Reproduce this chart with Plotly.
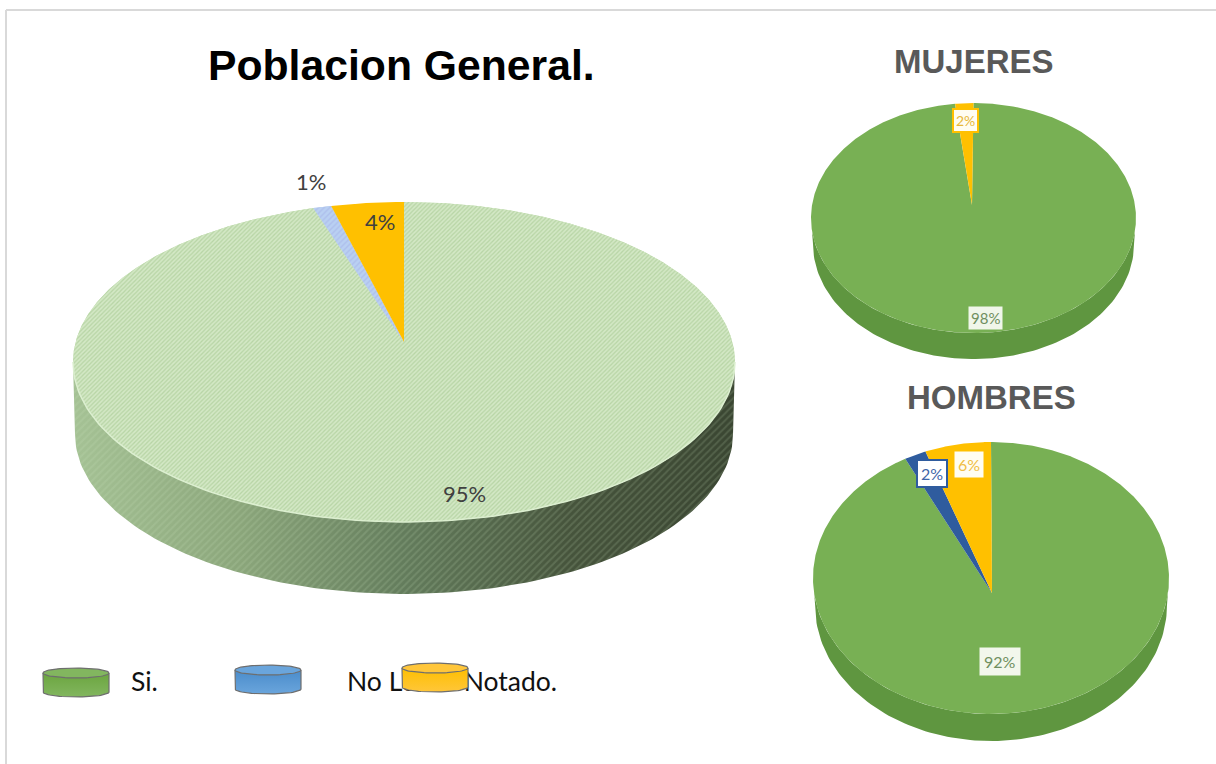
import numpy as np
import plotly.graph_objects as go

# ---- data ----
main_values = [95, 1, 4]
mujeres_values = [98, 2]
hombres_values = [92, 2, 6]
main_text = ["95%", "1%", "4%"]
title_main = "Poblacion General."
title_mujeres = "MUJERES"
title_hombres = "HOMBRES"
legend_items = ["Si.", "No Lo He Notado."]

fig = go.Figure()


def arc(cx, cy, rx, ry, k, t0, t1, n=120):
    """Arc of an ellipse seen in perspective; k=0 gives the plain ellipse."""
    t = np.radians(np.linspace(t0, t1, n))
    d = 1 + k * np.cos(t)
    return (cx + rx * np.sqrt(1 - k * k) * np.sin(t) / d,
            cy - ry * k - ry * (1 - k * k) * np.cos(t) / d)


def poly(x, y, **kw):
    fig.add_trace(go.Scatter(x=list(x), y=list(y), mode="lines", fill="toself",
                             line=dict(width=kw.pop("lw", 0), color=kw.pop("lc", "rgba(0,0,0,0)")),
                             hoverinfo="skip", showlegend=False, **kw))


def wall(cx, cy, rx, ry, depth):
    bx, by = arc(cx, cy, rx, ry, 0, 90, 270)
    bx2, by2 = arc(cx, cy + depth, rx - 2, ry, 0, 270, 90)
    return np.r_[bx, bx2], np.r_[by, by2]


def pie(values, colors, cx, cy, rx, ry, k, apex, depth, side, patterns=None):
    poly(*wall(cx, cy, rx, ry, depth), **side)
    total = sum(values)
    start = 0.0
    for i, v in enumerate(values):
        sweep = 360.0 * v / total
        ax, ay = arc(cx, cy, rx, ry, k, start, start + sweep, max(3, int(sweep * 2)))
        x = np.r_[apex[0], ax, apex[0]]
        y = np.r_[apex[1], ay, apex[1]]
        poly(x, y, fillcolor=colors[i])
        if patterns and patterns[i]:
            poly(x, y, fillcolor=colors[i], fillpattern=patterns[i])
        start += sweep


def ellipse_xy(cx, cy, rx, ry):
    t = np.linspace(0, 2 * np.pi, 80)
    return cx + rx * np.cos(t), cy + ry * np.sin(t)


def cylinder(x0, x1, y0, y1, col_top, col_bot):
    cx = (x0 + x1) / 2
    rx = (x1 - x0) / 2
    ry = 5
    t = np.linspace(np.pi, 0, 40)
    xs = np.r_[x0, cx + rx * np.cos(t), x1]
    ys = np.r_[y0 + ry, y1 - ry + ry * np.sin(t), y0 + ry]
    poly(xs, ys, lw=1.2, lc="#6e6e6e",
         fillgradient=dict(type="vertical", colorscale=[[0, col_top], [1, col_bot]]))
    ex, ey = ellipse_xy(cx, y0 + ry, rx, ry)
    poly(ex, ey, lw=1.2, lc="#6e6e6e", fillcolor=col_top)


# ---- main pie ----
hatch_side = dict(fillgradient=dict(type="horizontal",
                                    colorscale=[[0, "#a5c295"], [0.25, "#8ba67b"], [0.5, "#637c5c"],
                                                [0.75, "#46543c"], [1, "#3a4632"]]))
pat_top = dict(shape="/", size=3, solidity=0.42, fgcolor="#9cc186", bgcolor="#d3e8c5")
pat_blue = dict(shape="/", size=4, solidity=0.35, fgcolor="#a3aee6", bgcolor="#b9d0f2")
pie(main_values, ["#c5e0b4", "#b4c7e7", "#ffc000"], 404, 362, 331, 160, 0.125, (404, 342), 72,
    hatch_side, [pat_top, pat_blue, None])
poly(*wall(404, 362, 331, 160, 72), fillcolor="rgba(0,0,0,0)",
     fillpattern=dict(shape="/", size=5, solidity=0.4, fgcolor="rgba(205,230,190,0.32)",
                      bgcolor="rgba(0,0,0,0)"))
rim_x, rim_y = arc(404, 362, 331, 160, 0, 90, 270)
fig.add_trace(go.Scatter(x=rim_x, y=rim_y, mode="lines", line=dict(color="#dcefd0", width=1.5),
                         hoverinfo="skip", showlegend=False))

# ---- small pies ----
pie(mujeres_values, ["#78b054", "#ffc000"], 973.5, 218, 162.5, 115, 0.1, (972, 205), 26,
    dict(fillcolor="#5f9640"))
pie(hombres_values, ["#78b054", "#2f5c9e", "#ffc000"], 991, 578, 178, 136, 0, (992, 593), 27,
    dict(fillcolor="#5f9640"))

# ---- legend text lies under the swatches ----
fig.add_trace(go.Scatter(x=[131, 347], y=[684, 684], mode="text",
                         text=legend_items, textposition="middle right",
                         textfont=dict(family="Lato", size=26.5, color="#111111"),
                         hoverinfo="skip", showlegend=False))
cylinder(43, 109, 668, 697, "#82b65f", "#6ba53f")
cylinder(235, 301, 665, 694, "#6aa5dc", "#4a8ccb")
cylinder(402, 468, 663, 692, "#ffc63a", "#fdbf00")


def note(x, y, text, size=22, color="#404040", family="Lato", bold=False, **kw):
    fig.add_annotation(x=x, y=y, text=f"<b>{text}</b>" if bold else text, showarrow=False,
                       font=dict(family=family, size=size, color=color), **kw)


note(401, 65, title_main, 42.7, "#000000", "Liberation Sans", True)
note(973.5, 61, title_mujeres, 33, "#595959", "Liberation Sans", True)
note(991.5, 397, title_hombres, 33, "#595959", "Liberation Sans", True)

note(464, 493, main_text[0])
note(311, 181, main_text[1])
note(380, 221, main_text[2])

note(965, 120, "2%", 14, "#e8b83a", bgcolor="#fffdf2", bordercolor="#ffc000", borderwidth=2, borderpad=2)
note(985, 318, "98%", 15, "#6f8f60", bgcolor="#f0f6ea", borderpad=2)
note(932, 473, "2%", 16, "#3f66a8", bgcolor="#ffffff", bordercolor="#2f5c9e", borderwidth=2, borderpad=3)
note(969, 464, "6%", 16, "#f0bd45", bgcolor="#fffdf2", borderpad=3)
note(1000, 661, "92%", 16, "#6f8f60", bgcolor="#f2f7ec", borderpad=4)

frame = dict(type="line", xref="x", yref="y", line=dict(color="#d9d9d9", width=2))
fig.update_layout(
    width=1216, height=764, margin=dict(l=0, r=0, t=0, b=0),
    paper_bgcolor="white", plot_bgcolor="white", showlegend=False,
    xaxis=dict(range=[0, 1216], visible=False, fixedrange=True),
    yaxis=dict(range=[764, 0], visible=False, fixedrange=True),
    shapes=[dict(frame, x0=6, x1=6, y0=10, y1=764), dict(frame, x0=6, x1=1216, y0=10, y1=10)],
)
fig.write_html("out.html", config=dict(displayModeBar=False),
               post_script="document.body.style.margin='0';document.body.style.overflow='hidden';")
